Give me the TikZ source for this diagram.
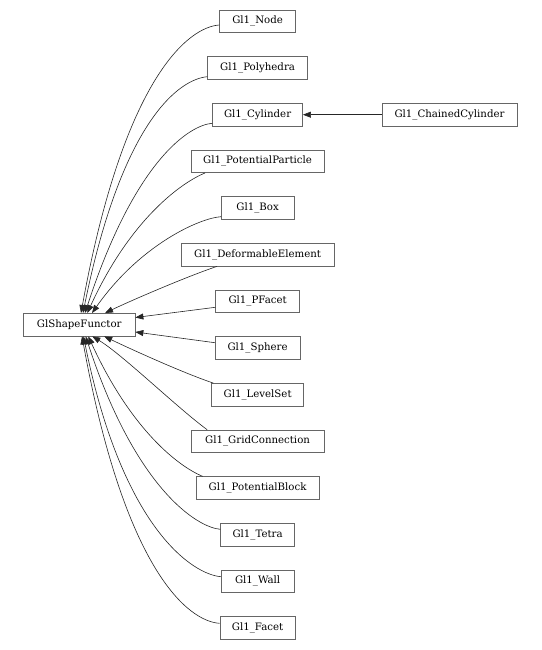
\documentclass[tikz,border=0pt]{standalone}
\usepackage{fontspec}
\setmainfont{DejaVu Serif}
\usetikzlibrary{arrows.meta,calc}
\begin{document}
\begin{tikzpicture}[x=1pt,y=-1pt,
  cls/.style={draw=black!60, line width=0.6pt, fill=white, minimum height=22.7pt,
    inner xsep=6pt, inner ysep=0pt, font=\fontsize{10.2}{12}\selectfont, text=black},
  edge/.style={draw=black!85, line width=0.6pt, -{Triangle[length=8pt,width=6pt]}}]
\useasboundingbox (0,0) rectangle (541,650);

\node[cls, minimum width=111.7pt] (gsf) at (79.2,324.7) {GlShapeFunctor};

\node[cls, minimum width=76pt]    (n0)  at (257.6,21.3)  {Gl1\_Node};
\node[cls, minimum width=99.7pt]  (n1)  at (257.6,68.0)  {Gl1\_Polyhedra};
\node[cls, minimum width=90pt]    (n2)  at (257.6,114.7) {Gl1\_Cylinder};
\node[cls, minimum width=133.4pt] (n3)  at (257.6,161.3) {Gl1\_PotentialParticle};
\node[cls, minimum width=72.5pt]  (n4)  at (257.6,208.0) {Gl1\_Box};
\node[cls, minimum width=153.3pt] (n5)  at (257.6,254.7) {Gl1\_DeformableElement};
\node[cls, minimum width=84pt]    (n6)  at (257.6,301.3) {Gl1\_PFacet};
\node[cls, minimum width=85pt]    (n7)  at (257.6,348.0) {Gl1\_Sphere};
\node[cls, minimum width=92pt]    (n8)  at (257.6,394.7) {Gl1\_LevelSet};
\node[cls, minimum width=132.4pt] (n9)  at (257.6,441.3) {Gl1\_GridConnection};
\node[cls, minimum width=122.6pt] (n10) at (257.6,488.0) {Gl1\_PotentialBlock};
\node[cls, minimum width=73.9pt]  (n11) at (257.6,534.7) {Gl1\_Tetra};
\node[cls, minimum width=72.8pt]  (n12) at (257.6,581.3) {Gl1\_Wall};
\node[cls, minimum width=75.6pt]  (n13) at (257.6,628.0) {Gl1\_Facet};
\node[cls, minimum width=135pt]   (cc)  at (449.5,114.7) {Gl1\_ChainedCylinder};

% upper edges
\draw[edge] ($(n0.west)+(0,3.7)$) .. controls +(-30.6,2) and +(43,-236.3) .. ($(gsf.north)+(1.8,0)$);
\draw[edge] ($(n1.west)+(0,8.7)$) .. controls +(-27.75,2.3) and +(39,-193.3) .. ($(gsf.north)+(3.8,0)$);
\draw[edge] ($(n2.west)+(0,8.6)$) .. controls +(-22.6,1.7) and +(50,-153.3) .. ($(gsf.north)+(5.8,0)$);
\draw[edge] ($(n3.south west)+(14.5,0)$) .. controls +(-24.4,10) and +(42.7,-93.3) .. ($(gsf.north)+(8.1,0)$);
\draw[edge] ($(n4.west)+(0,8.7)$) .. controls +(-21.35,1.3) and +(48,-68.3) .. ($(gsf.north)+(12.8,0)$);
\draw[edge] ($(n5.south west)+(36.5,0)$) .. controls +(-30,10) and +(25,-12) .. ($(gsf.north)+(25.8,0)$);
\draw[edge] ($(n6.west)+(0,6)$) -- ($(gsf.east)+(0,-7.2)$);
% lower edges
\draw[edge] ($(n7.west)+(0,-5.3)$) -- ($(gsf.east)+(0,7.3)$);
\draw[edge] ($(n8.north west)+(2,0)$) .. controls +(-30,-10) and +(25,12) .. ($(gsf.south)+(25,0)$);
\draw[edge] ($(n9.north west)+(16,0)$) .. controls +(-30,-22) and +(30,18) .. ($(gsf.south)+(13.1,0)$);
\draw[edge] ($(n10.north west)+(6.7,0)$) .. controls +(-24.4,-10) and +(42.7,93.3) .. ($(gsf.south)+(9.1,0)$);
\draw[edge] ($(n11.west)+(0,-5.4)$) .. controls +(-22.6,-1.7) and +(50,153.3) .. ($(gsf.south)+(6.5,0)$);
\draw[edge] ($(n12.west)+(0,-4.6)$) .. controls +(-27.75,-2.3) and +(39,193.3) .. ($(gsf.south)+(4.3,0)$);
\draw[edge] ($(n13.west)+(0,-4.7)$) .. controls +(-30.6,-2) and +(43,236.3) .. ($(gsf.south)+(2.8,0)$);

\draw[edge] (cc.west) -- (n2.east);
\end{tikzpicture}
\end{document}
